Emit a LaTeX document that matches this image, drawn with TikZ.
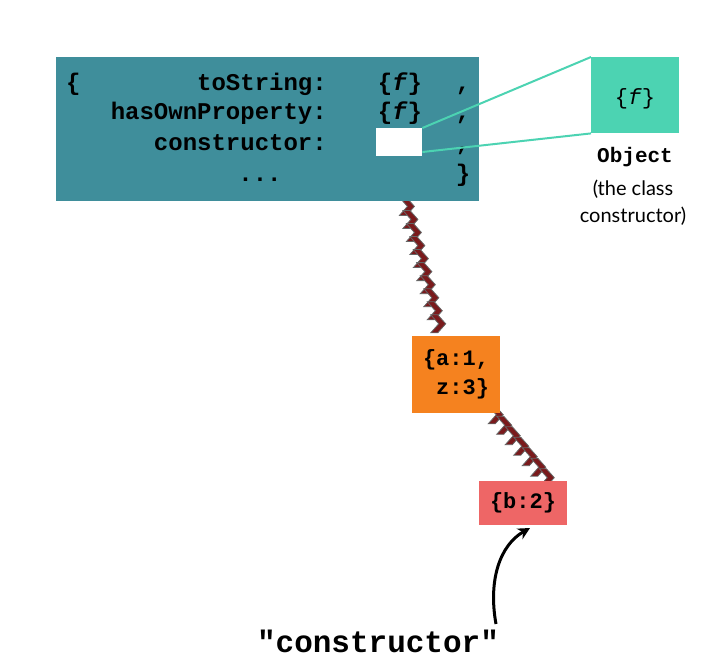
\documentclass[tikz,border=0pt]{standalone}
\usepackage{fontspec}
\setmainfont{Lato}
\setmonofont{Liberation Mono}
\usetikzlibrary{decorations.markings,arrows.meta}
\definecolor{teal1}{HTML}{3F8E9B}
\definecolor{mint}{HTML}{4CD3B2}
\definecolor{orng}{HTML}{F5821F}
\definecolor{rose}{HTML}{EE6666}
\definecolor{chev}{HTML}{7A1A1C}
\tikzset{
  code/.style={font=\ttfamily\bfseries\fontsize{24}{24}\selectfont, inner sep=0pt},
  objbox/.style={draw=none, inner sep=0pt, anchor=north west},
  link/.style={mint, line width=2pt},
  chevpic/.pic={\fill[chev, draw=gray!80!black, line width=0.8pt] (-6,9)--(2,0)--(-6,-9)--(1,-9)--(9,0)--(1,9)--cycle;},
  chain/.style={postaction={decorate}, decoration={markings, mark=between positions 0.04 and 0.97 step 13.5pt with {\pic{chevpic};}}},
}
\begin{document}
\begin{tikzpicture}[x=1pt,y=-1pt]
\useasboundingbox (0,0) rectangle (708,667);
% chains first (behind boxes)
\coordinate (c1) at (404,201);
\coordinate (c2) at (440,336);
\coordinate (c3) at (492,412);
\coordinate (c4) at (548,481);
\path[chain] (c1) -- (c2);
\path[chain] (c3) -- (c4);
% main box
\node[objbox, fill=teal1, minimum width=423pt, minimum height=144pt] (main) at (56,57) {};
\node[code, anchor=base west] (lb) at (66,90) {\{};
\node[code, anchor=base east] (k1) at (327,90) {toString:};
\node[code, anchor=base east] (k2) at (327,119) {hasOwnProperty:};
\node[code, anchor=base east] (k3) at (327,150) {constructor:};
\node[code, anchor=base] (k4) at (260,181) {...};
\node[code, anchor=base] (v1) at (400,90) {\{\textit{f}\}};
\node[code, anchor=base] (v2) at (400,119) {\{\textit{f}\}};
\node[code, anchor=base] (p1) at (463,90) {,};
\node[code, anchor=base] (p2) at (463,119) {,};
\node[code, anchor=base] (p3) at (463,150) {,};
\node[code, anchor=base] (rb) at (463,181) {\}};
\node[objbox, fill=white, minimum width=46pt, minimum height=28pt] (slot) at (376,128) {};
% Object
\node[objbox, fill=mint, minimum width=88pt, minimum height=76pt] (obj) at (591,57) {};
\node[font=\ttfamily\fontsize{22}{22}\selectfont, inner sep=0pt] (objf) at (635,99) {\{\textit{f}\}};
\draw[link] (slot.north east) -- (obj.north west);
\draw[link] ([yshift=-24pt]slot.north east) -- (obj.south west);
\node[font=\ttfamily\bfseries\fontsize{21}{21}\selectfont, inner sep=0pt] (objname) at (635,157) {Object};
\node[font=\fontsize{20}{27}\selectfont, align=center, inner sep=0pt] (objdesc) at (633,203) {(the class\\constructor)};
% orange
\node[objbox, fill=orng, minimum width=88pt, minimum height=77pt] (az) at (412,336) {};
\node[font=\ttfamily\bfseries\fontsize{22}{29}\selectfont, align=left, inner sep=0pt] (azt) at (456,374) {\{a:1,\\\ z:3\}};
% red
\node[objbox, fill=rose, minimum width=88pt, minimum height=44pt] (b) at (479,481) {};
\node[font=\ttfamily\bfseries\fontsize{22}{22}\selectfont, inner sep=0pt] (bt) at (523,503) {\{b:2\}};
% label
\node[font=\ttfamily\bfseries\fontsize{31}{31}\selectfont, inner sep=0pt] (cons) at (378,641) {"constructor"};
\coordinate (a0) at (496,624);
\draw[-{Stealth[length=12pt,width=12pt]}, line width=3pt] (a0) .. controls (488,580) and (500,545) .. (530,528);
\end{tikzpicture}
\end{document}
